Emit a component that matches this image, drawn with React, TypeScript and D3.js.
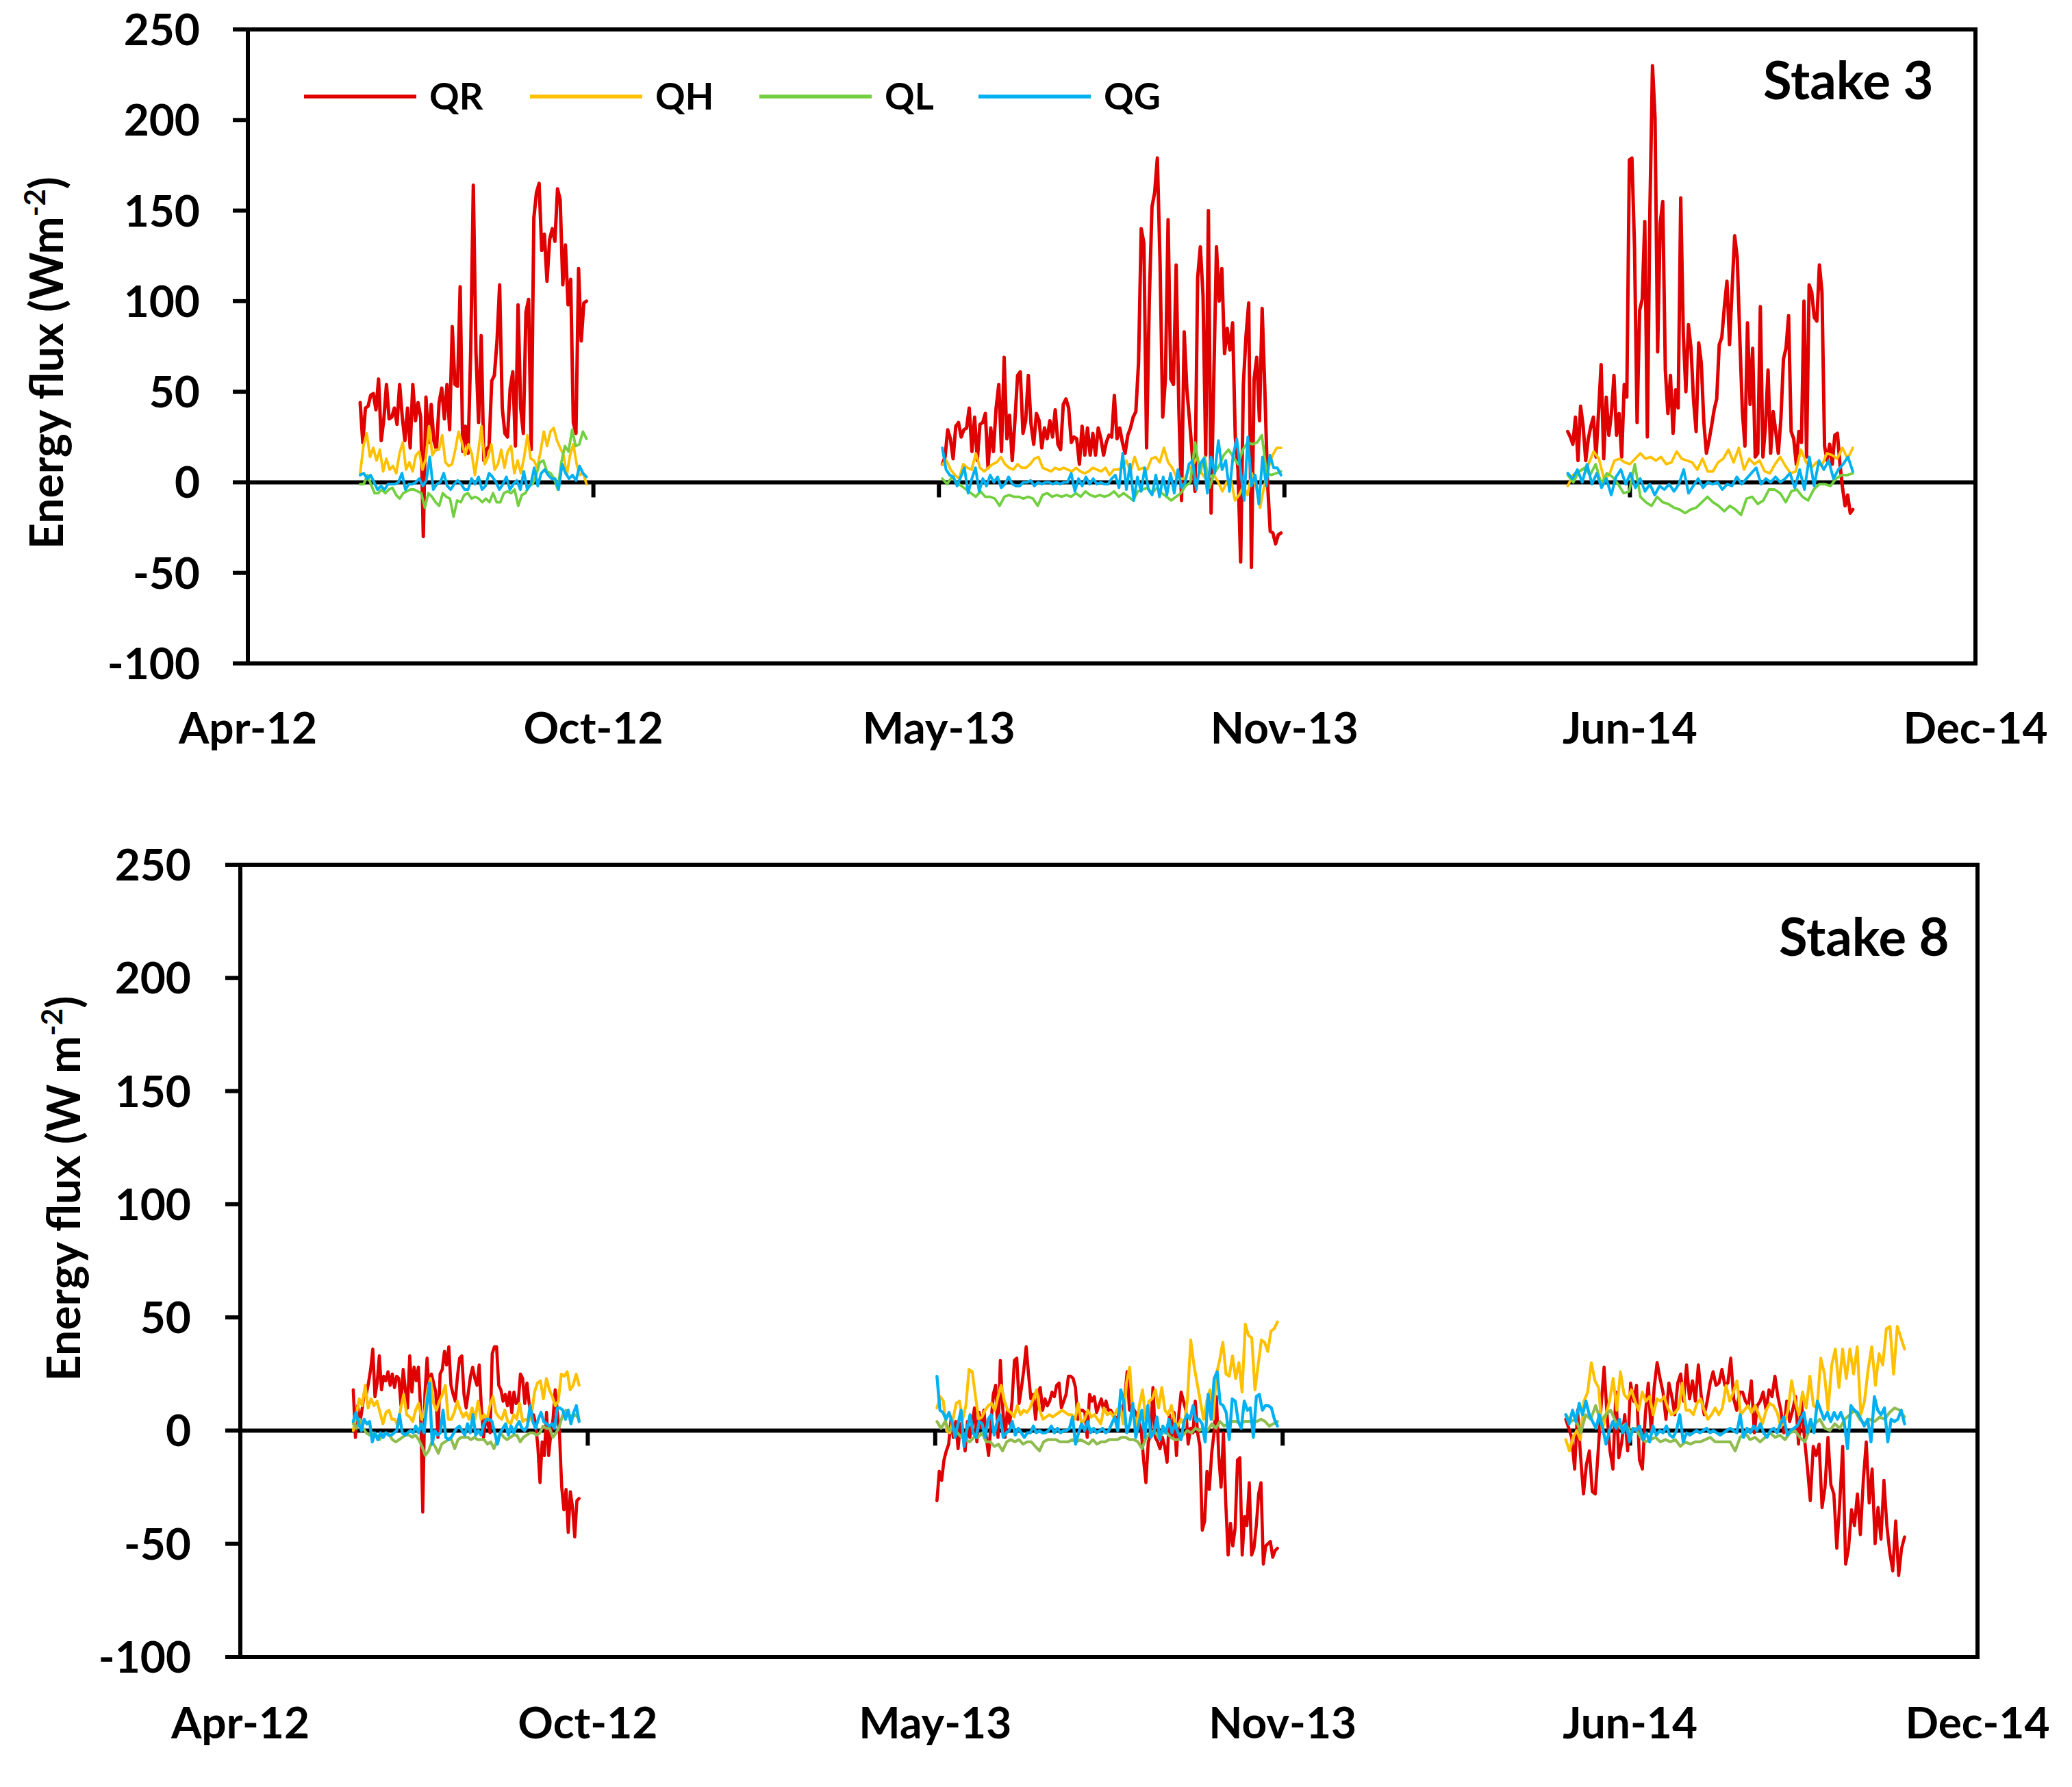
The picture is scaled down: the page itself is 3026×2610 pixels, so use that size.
import React, { useEffect, useRef } from "react";
import * as d3 from "d3";

// date axis: Apr-12 .. Dec-14, major unit 200 days
const axisStart = new Date(Date.UTC(2012, 3, 1));
const tickDays = [0, 200, 400, 600, 800, 1000];
const yTicks = [-100, -50, 0, 50, 100, 150, 200, 250];
const seriesNames = ["QR", "QH", "QL", "QG"];

// first / last sample date of each melt season
const stake3Seasons = [["2012-06-05", "2012-10-14"], ["2013-05-08", "2013-11-20"], ["2014-05-05", "2014-10-17"]];
const stake8Seasons = [["2012-06-05", "2012-10-13"], ["2013-05-07", "2013-11-19"], ["2014-05-04", "2014-11-15"]];

// ---- Stake 3 ----
const stake3QR12 = [44,22,41,42,48,49,40,57,23,35,54,35,36,41,32,54,36,23,41,19,54,34,44,36,-30,47,22,43,23,18,44,52,35,54,29,86,54,53,108,17,31,16,72,164,72,33,81,12,18,20,56,59,78,109,41,27,25,52,61,20,98,41,27,94,101,18,146,160,165,128,137,111,134,140,133,162,156,109,131,98,112,33,27,118,78,99,100];
const stake3QH12 = [5,20,27,14,19,12,18,6,13,7,9,5,16,22,7,11,6,15,17,7,13,31,15,18,18,26,11,9,10,18,28,22,15,21,16,4,17,31,10,14,21,7,10,18,8,17,20,5,12,5,14,26,13,12,8,17,28,20,28,30,23,19,15,4,15,21,10,4,5,-1];
const stake3QL12 = [-1,-1,4,-1,-6,-6,-4,-6,-4,-3,-7,-9,-6,-5,-4,-4,-5,-6,-14,-6,-8,-11,-13,-6,-8,-9,-19,-10,-11,-7,-6,-9,-8,-9,-11,-9,-11,-6,-11,-11,-6,-5,-6,-4,-13,-7,-6,-2,-1,4,11,12,6,5,2,-4,11,20,17,29,20,21,28,24];
const stake3QG12 = [4,5,2,4,0,-4,-2,-4,-1,-1,-1,0,5,-4,-1,-1,0,2,-2,1,14,-4,-1,0,5,-2,-4,-1,1,-1,-4,-4,2,-1,3,-4,-2,5,3,0,-4,-1,3,-4,-1,1,-4,6,-4,-1,8,-2,5,7,4,2,2,-4,10,5,2,4,1,9,5,3];

const stake3QR13 = [10,14,29,24,13,31,33,25,29,30,41,17,36,12,32,33,38,8,30,17,41,54,17,69,24,37,12,34,59,61,27,34,59,32,21,38,34,19,30,24,34,25,40,21,18,43,46,41,22,25,24,10,31,15,30,15,27,15,30,24,15,22,26,25,48,24,30,22,16,26,30,36,39,66,140,132,19,100,152,160,179,122,36,57,145,57,54,120,41,-10,83,51,34,15,-5,113,130,103,15,150,-17,57,130,100,118,71,85,73,88,25,7,-44,54,81,99,-47,57,69,34,96,51,0,-27,-28,-34,-29,-28];
const stake3QH13 = [10,12,7,4,2,10,8,7,16,8,6,8,10,11,14,10,8,7,10,8,8,10,13,14,8,7,6,8,7,8,7,6,8,6,5,6,8,7,6,8,4,7,7,8,12,6,14,7,8,7,13,14,11,19,11,8,3,2,2,7,10,14,5,2,3,4,0,-5,0,2,-10,-7,-2,-7,5,-2,-14,-2,8,15,19,19];
const stake3QL13 = [2,-1,3,0,-2,-4,-6,-8,-5,-8,-8,-9,-13,-8,-7,-8,-8,-9,-8,-9,-13,-7,-6,-8,-7,-8,-7,-8,-6,-8,-5,-7,-8,-7,-8,-7,-5,-8,-6,-8,-10,-5,-4,-3,-6,-3,-6,-8,-10,-8,-6,-2,0,22,5,14,-3,5,9,15,18,14,10,18,22,21,22,26,5,4,5,6];
const stake3QG13 = [19,7,4,3,-2,3,8,-6,2,8,-5,2,-2,4,0,3,-3,-1,3,-1,-2,-2,0,0,1,-2,0,-1,0,0,-1,0,-1,0,0,5,-5,2,-2,3,-1,2,-1,0,-1,-1,2,4,-3,16,-4,10,-10,3,-5,8,-4,-7,4,-8,3,-7,5,-6,7,-3,0,10,12,-4,10,13,-6,14,5,23,7,12,-5,15,24,7,-10,25,-2,4,-12,14,-2,15,8,8,4];

const stake3QR14 = [28,25,21,36,12,42,31,12,24,31,36,14,39,65,13,47,26,38,59,26,38,14,54,47,178,179,130,33,95,101,144,25,151,230,201,72,143,155,62,38,59,27,51,41,157,82,50,87,74,45,28,77,66,33,16,23,31,40,46,76,80,97,111,76,107,136,124,80,39,20,88,43,74,14,16,97,14,31,62,16,39,28,16,35,68,74,92,28,24,10,28,22,100,14,109,105,91,89,120,105,20,12,21,10,26,27,10,-3,-13,-7,-17,-15];
const stake3QH14 = [-2,4,6,7,10,17,13,2,4,12,13,11,10,13,16,13,14,12,14,10,11,17,13,12,11,7,13,6,6,11,13,18,11,19,7,13,10,12,6,5,10,14,9,5,6,18,11,8,11,9,16,15,13,19,13,19];
const stake3QL14 = [4,0,6,8,4,10,-1,5,3,-1,-6,-5,10,-8,-11,-13,-8,-11,-12,-14,-15,-17,-15,-14,-11,-8,-11,-13,-16,-13,-15,-18,-9,-8,-12,-10,-4,-4,-6,-11,-5,-4,-8,-10,-4,-1,-1,-2,2,4,4,5];
const stake3QG14 = [5,2,7,0,10,-1,5,-3,2,-7,3,7,-1,5,-3,2,-5,-1,-7,-2,-4,-1,-5,-1,7,-6,-2,2,-3,0,-1,0,-4,-1,-2,3,-1,2,5,8,-1,2,0,3,0,2,5,-3,7,-4,14,-2,12,7,12,2,7,10,14,6];

// ---- Stake 8 ----
const stake8QR12 = [18,-3,11,3,9,16,16,21,27,36,15,21,33,18,24,22,26,20,25,19,24,23,11,27,18,10,33,17,28,22,28,10,-36,16,32,16,25,21,17,-3,25,27,35,29,37,20,16,13,24,32,33,16,10,17,24,28,23,20,29,10,-3,5,3,-1,34,37,37,20,18,13,16,11,17,8,17,12,13,25,23,12,21,12,7,7,3,-7,-23,-5,-11,8,-11,-1,5,18,8,-2,-25,-35,-26,-45,-27,-34,-47,-31,-30];
const stake8QH12 = [0,7,14,11,20,10,14,11,13,8,3,8,9,5,5,2,10,16,7,6,4,9,12,5,8,18,23,12,9,13,16,20,5,5,8,13,9,6,8,5,10,5,13,5,7,5,11,15,8,6,5,9,4,3,7,5,12,4,5,4,7,17,21,22,14,23,18,15,11,13,25,24,26,18,20,25,20];
const stake8QL12 = [3,1,5,1,-1,-2,-1,-2,-4,-2,-1,-2,-4,-5,-4,-3,-2,-2,-3,-2,-4,-7,-11,-9,-5,-7,-10,-6,-5,-4,-4,-8,-4,-3,-3,-3,-4,-3,-4,-4,-4,-6,-5,-8,-4,-1,-3,-4,-3,-2,-2,-5,-3,-2,-1,-1,-2,-1,2,1,1,-3,-1,2,7,9,7,6,7,5];
const stake8QG12 = [4,8,3,0,5,3,4,-5,-1,-4,-1,-3,-1,-2,-2,-1,0,7,-1,-2,-1,0,-1,2,-1,3,-1,11,21,-6,0,-2,-1,9,-3,-4,-3,-1,1,2,0,-2,3,-1,7,-2,0,-2,3,5,5,4,-1,-6,-1,1,3,-2,2,-1,2,4,1,0,2,11,4,1,5,8,4,3,2,3,1,10,10,9,5,9,3,8,11,4];

const stake8QR13 = [-31,-18,-22,-13,-9,-6,5,-3,4,-8,3,-1,-9,4,-3,3,10,-5,8,1,9,-3,-11,3,16,20,-3,31,10,-3,9,3,13,31,32,12,19,27,37,25,14,16,5,17,19,9,14,11,13,17,15,20,21,10,13,16,24,24,23,19,5,9,9,8,-3,16,13,15,8,11,14,9,13,9,9,7,6,5,11,8,15,26,9,11,9,7,4,0,-13,-23,-5,-2,19,-3,-5,-8,-3,-7,-14,7,-3,8,-11,7,17,13,9,-6,1,-1,13,-1,-7,-44,-40,-18,-26,-10,-1,15,-11,-25,-1,-32,-55,-41,-51,-43,-13,-12,-55,-38,-42,-23,-55,-52,-42,-28,-23,-59,-51,-50,-49,-56,-53,-52];
const stake8QH13 = [10,15,13,0,-1,5,12,13,5,11,27,26,15,5,6,9,11,12,9,15,20,13,9,8,6,11,7,9,8,10,14,18,9,5,6,7,6,7,8,9,8,7,7,5,12,3,5,9,6,7,5,3,10,7,8,6,9,11,3,21,28,8,1,11,18,5,13,14,18,10,19,9,7,11,4,2,5,2,14,40,29,21,13,5,13,18,5,25,31,39,25,24,33,23,30,17,47,42,41,18,29,40,39,35,44,45,48];
const stake8QL13 = [4,1,4,0,1,-1,-3,-4,-5,-3,-3,-1,-5,-5,-7,-6,-9,-5,-4,-5,-4,-6,-5,-5,-7,-9,-5,-4,-4,-4,-5,-5,-5,-4,-5,-4,-5,-6,-4,-6,-5,-5,-4,-4,-4,-3,-3,-4,-4,-5,-8,-3,-1,0,-3,-1,-1,-3,-4,-4,-2,0,-1,1,0,1,0,3,1,4,2,3,4,4,3,4,4,4,4,5,4,2,3,4];
const stake8QG13 = [24,9,8,5,8,4,-3,3,9,-7,1,7,-1,-3,4,3,-3,5,7,-2,4,7,-3,-1,0,4,-2,1,-1,-3,-1,-1,2,-1,0,-1,-1,0,2,-1,1,-1,0,0,1,6,-6,-1,3,0,4,-1,1,-1,0,1,-1,0,3,6,0,18,13,-1,3,12,-3,3,9,-3,11,-3,-1,6,-4,2,-1,5,-1,3,-1,-4,4,7,5,11,4,5,3,-5,16,5,23,26,12,11,8,-4,14,13,4,1,13,9,10,-3,15,16,9,11,11,10,5,2];

const stake8QR14 = [5,1,-3,-17,9,-11,-28,-15,-9,-27,-28,-9,11,28,7,-9,-17,17,-12,-5,7,-9,21,13,20,-13,-17,7,21,-1,19,30,23,17,5,21,15,7,21,25,13,29,14,22,13,29,15,7,13,21,26,20,21,27,20,21,32,14,9,17,17,13,11,22,-1,11,13,17,9,18,15,24,15,9,-1,13,4,9,15,-6,13,-3,-16,-31,-7,-11,-6,-34,-25,-3,-24,-28,-52,-32,-7,-59,-52,-35,-42,-28,-46,-22,-5,-32,-17,-50,-34,-48,-22,-42,-54,-62,-40,-64,-52,-47];
const stake8QH14 = [-4,-9,-3,0,-4,13,17,30,22,19,0,7,13,23,9,26,16,14,18,13,9,17,13,15,7,14,13,15,10,7,8,10,21,9,9,7,12,14,9,5,7,10,7,10,20,13,17,22,7,9,11,8,11,7,3,9,12,11,8,2,3,9,22,13,7,17,10,24,11,10,32,25,9,29,36,19,36,23,36,25,37,7,13,27,37,20,34,29,45,46,25,46,41,36];
const stake8QL14 = [7,4,5,-1,7,5,11,4,7,9,4,1,3,-1,1,-3,-5,-4,-3,-5,-4,-5,-4,-7,-5,-6,-5,-5,-4,-3,-5,-5,-5,-5,-9,-3,-1,-4,-3,-5,-3,-1,-3,-2,-4,-1,0,-3,-5,1,3,5,1,0,3,1,5,7,9,5,3,5,4,6,5,8,10,9,6];
const stake8QG14 = [7,3,9,4,12,7,13,7,4,1,7,1,-6,0,4,1,5,-1,3,-5,1,0,2,-4,-1,-5,2,-2,0,-1,2,-2,-3,0,7,-5,-1,-2,-1,0,-1,0,1,-1,0,-1,-2,-1,0,1,0,-1,7,-3,1,-1,2,0,3,-1,-3,0,1,-1,3,6,-2,0,1,2,5,8,-1,5,-1,13,9,5,8,4,8,5,8,4,-8,11,9,8,5,2,5,-5,15,9,7,10,-5,5,4,5,9,3];

const FONT = "Lato, 'Open Sans', sans-serif";

interface PanelCfg {
  left: number; right: number; top: number; bottom: number;
  label: string; labelX: number; labelY: number;
  unit: string; titleX: number; titleY: number;
  seasons: string[][];
  series: number[][][]; // [series][season][values]
  colors: string[];
  widths: number[];
  tickLabelGap: number;
  xLabelY: number;
  legend: boolean;
}

const panels: PanelCfg[] = [
  {
    left: 362, right: 2885, top: 43, bottom: 969,
    label: "Stake 3", labelX: 2575, labelY: 145,
    unit: "Wm", titleX: 92, titleY: 530,
    seasons: stake3Seasons,
    series: [
      [stake3QR12, stake3QR13, stake3QR14],
      [stake3QH12, stake3QH13, stake3QH14],
      [stake3QL12, stake3QL13, stake3QL14],
      [stake3QG12, stake3QG13, stake3QG14],
    ],
    colors: ["#E00000", "#FFC000", "#72CF3F", "#00B0F0"],
    widths: [5, 3.8, 3.8, 4],
    tickLabelGap: 70,
    xLabelY: 1086,
    legend: true,
  },
  {
    left: 351, right: 2888, top: 1263, bottom: 2420,
    label: "Stake 8", labelX: 2598, labelY: 1396,
    unit: "W m", titleX: 117, titleY: 1736,
    seasons: stake8Seasons,
    series: [
      [stake8QR12, stake8QR13, stake8QR14],
      [stake8QH12, stake8QH13, stake8QH14],
      [stake8QL12, stake8QL13, stake8QL14],
      [stake8QG12, stake8QG13, stake8QG14],
    ],
    colors: ["#E00000", "#FFC000", "#8FBC4F", "#00B0F0"],
    widths: [4.6, 4.2, 4.2, 4.4],
    tickLabelGap: 72,
    xLabelY: 2539,
    legend: false,
  },
];

const legendX = [444, 774, 1109, 1429];

const App: React.FC = () => {
  const svgRef = useRef<SVGSVGElement | null>(null);

  useEffect(() => {
    if (!svgRef.current) return;
    const svg = d3.select(svgRef.current);
    svg.selectAll("*").remove();
    const fmt = d3.utcFormat("%b-%y");
    const tickDates = tickDays.map(d => d3.utcDay.offset(axisStart, d));

    panels.forEach(p => {
      const g = svg.append("g");
      const x = d3.scaleUtc()
        .domain([axisStart, d3.utcDay.offset(axisStart, 1000)])
        .range([p.left, p.right]);
      const y = d3.scaleLinear().domain([-100, 250]).range([p.bottom, p.top]);

      // plot frame
      g.append("rect")
        .attr("x", p.left).attr("y", p.top)
        .attr("width", p.right - p.left).attr("height", p.bottom - p.top)
        .attr("fill", "none").attr("stroke", "#000").attr("stroke-width", 6);

      // y ticks + labels
      yTicks.forEach(t => {
        g.append("line")
          .attr("x1", p.left - 22).attr("x2", p.left)
          .attr("y1", y(t)).attr("y2", y(t))
          .attr("stroke", "#000").attr("stroke-width", 6);
        g.append("text")
          .attr("x", p.left - p.tickLabelGap).attr("y", y(t))
          .attr("dy", "0.36em")
          .attr("text-anchor", "end")
          .style("font-family", FONT).style("font-weight", 700).style("font-size", "64px")
          .text(t);
      });

      // horizontal axis at zero
      g.append("line")
        .attr("x1", p.left).attr("x2", p.right)
        .attr("y1", y(0)).attr("y2", y(0))
        .attr("stroke", "#000").attr("stroke-width", 6);
      tickDates.forEach(d => {
        g.append("line")
          .attr("x1", x(d)).attr("x2", x(d))
          .attr("y1", y(0)).attr("y2", y(0) + 22)
          .attr("stroke", "#000").attr("stroke-width", 6);
        g.append("text")
          .attr("x", x(d)).attr("y", p.xLabelY)
          .attr("text-anchor", "middle")
          .style("font-family", FONT).style("font-weight", 700).style("font-size", "64px")
          .text(fmt(d));
      });

      // series
      const line = d3.line<[Date, number]>()
        .x(d => x(d[0]))
        .y(d => y(d[1]));
      p.series.forEach((seasonArrs, si) => {
        seasonArrs.forEach((vals, k) => {
          const t0 = new Date(p.seasons[k][0] + "T00:00:00Z").getTime();
          const t1 = new Date(p.seasons[k][1] + "T00:00:00Z").getTime();
          const idx = d3.scaleLinear().domain([0, vals.length - 1]).range([t0, t1]);
          const pts: [Date, number][] = vals.map((v, i) => [new Date(idx(i)), v]);
          g.append("path")
            .attr("d", line(pts) as string)
            .attr("fill", "none")
            .attr("stroke", p.colors[si])
            .attr("stroke-width", p.widths[si])
            .attr("stroke-linejoin", "round")
            .attr("stroke-linecap", "round");
        });
      });

      // panel label
      g.append("text")
        .attr("x", p.labelX).attr("y", p.labelY)
        .style("font-family", FONT).style("font-weight", 700).style("font-size", "76px")
        .text(p.label);

      // y title
      const title = g.append("text")
        .attr("transform", `translate(${p.titleX},${p.titleY}) rotate(-90)`)
        .attr("text-anchor", "middle")
        .style("font-family", FONT).style("font-weight", 700).style("font-size", "66px");
      title.append("tspan").text(`Energy flux (${p.unit}`);
      title.append("tspan").attr("dy", -26).style("font-size", "42px").text("-2");
      title.append("tspan").attr("dy", 26).text(")");

      // legend
      if (p.legend) {
        seriesNames.forEach((name, i) => {
          g.append("line")
            .attr("x1", legendX[i]).attr("x2", legendX[i] + 164)
            .attr("y1", 141).attr("y2", 141)
            .attr("stroke", p.colors[i]).attr("stroke-width", 5.5);
          g.append("text")
            .attr("x", legendX[i] + 183).attr("y", 160)
            .style("font-family", FONT).style("font-weight", 700).style("font-size", "54px")
            .text(name);
        });
      }
    });
  }, []);

  return (
    <svg
      ref={svgRef}
      width={3026}
      height={2610}
      style={{ position: "absolute", left: 0, top: 0, background: "#fff" }}
    />
  );
};

export default App;
